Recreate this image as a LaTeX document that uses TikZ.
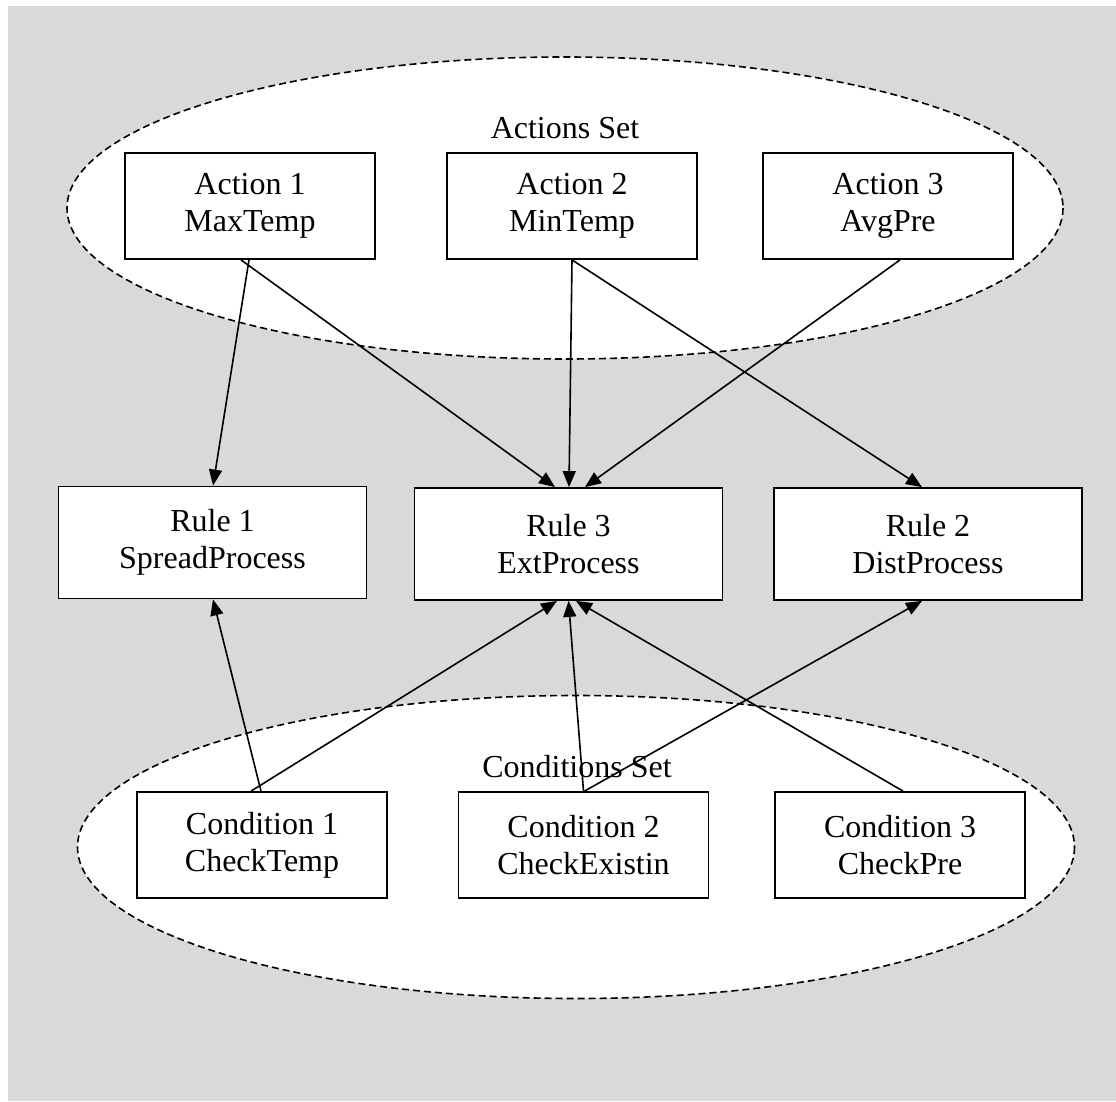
\documentclass[tikz,border=0pt]{standalone}
\usepackage{fontspec}
\setmainfont{Liberation Serif}
\usetikzlibrary{arrows.meta}
\definecolor{bggray}{HTML}{D9D9D9}
\begin{document}
\begin{tikzpicture}[x=1pt,y=-1pt,
  txt/.style={font=\fontsize{32}{37}\selectfont},
  boxA/.style={txt,draw,fill=white,line width=1.8pt,align=center,inner sep=0pt,minimum width=250pt,minimum height=106pt},
  boxR/.style={txt,draw,fill=white,line width=1.8pt,align=center,inner sep=0pt,minimum width=308pt,minimum height=112pt},
  setell/.style={draw,fill=white,line width=1.6pt,dash pattern=on 7pt off 4pt},
  conn/.style={line width=1.6pt,-{Triangle[length=16pt,width=13pt]}}
]
\useasboundingbox (0,0) rectangle (1116,1101);
\fill[white] (0,0) rectangle (1116,1101);
\fill[bggray] (8,6) rectangle (1116,1101);

% sets
\draw[setell] (565,208) ellipse [x radius=498, y radius=151];
\draw[setell] (576,847) ellipse [x radius=498.5, y radius=151.5];
\node[txt,anchor=base,inner sep=0pt] (aset) at (565,138) {Actions Set};
\node[txt,anchor=base,inner sep=0pt] (cset) at (577,777) {Conditions Set};

% boxes
\node[boxA] (A1) at (250,206) {Action 1\\MaxTemp};
\node[boxA] (A2) at (572,206) {Action 2\\MinTemp};
\node[boxA] (A3) at (888,206) {Action 3\\AvgPre};
\node[boxR] (R1) at (212.5,542.5) {Rule 1\\SpreadProcess};
\node[boxR] (R3) at (568.5,544) {Rule 3\\ExtProcess};
\node[boxR] (R2) at (928,544) {Rule 2\\DistProcess};
\node[boxA] (C1) at (262,845) {Condition 1\\CheckTemp};
\node[boxA] (C2) at (583.5,845) {Condition 2\\CheckExistin};
\node[boxA] (C3) at (900,845) {Condition 3\\CheckPre};

% connectors
\draw[conn] ([xshift=-1pt]A1.south) -- ([xshift=0.5pt]R1.north);
\draw[conn] ([xshift=-9pt]A1.south) -- ([xshift=-13.5pt]R3.north);
\draw[conn] (A2.south) -- ([xshift=0.5pt]R3.north);
\draw[conn] ([xshift=12pt]A3.south) -- ([xshift=16.5pt]R3.north);
\draw[conn] (A2.south) -- ([xshift=-6pt]R2.north);
\draw[conn] ([xshift=-1pt]C1.north) -- ([xshift=0.5pt]R1.south);
\draw[conn] ([xshift=-11pt]C1.north) -- ([xshift=-11.5pt]R3.south);
\draw[conn] (C2.north) -- (R3.south);
\draw[conn] ([xshift=1pt]C2.north) -- ([xshift=-6pt]R2.south);
\draw[conn] ([xshift=3pt]C3.north) -- ([xshift=7.5pt]R3.south);
\end{tikzpicture}
\end{document}
